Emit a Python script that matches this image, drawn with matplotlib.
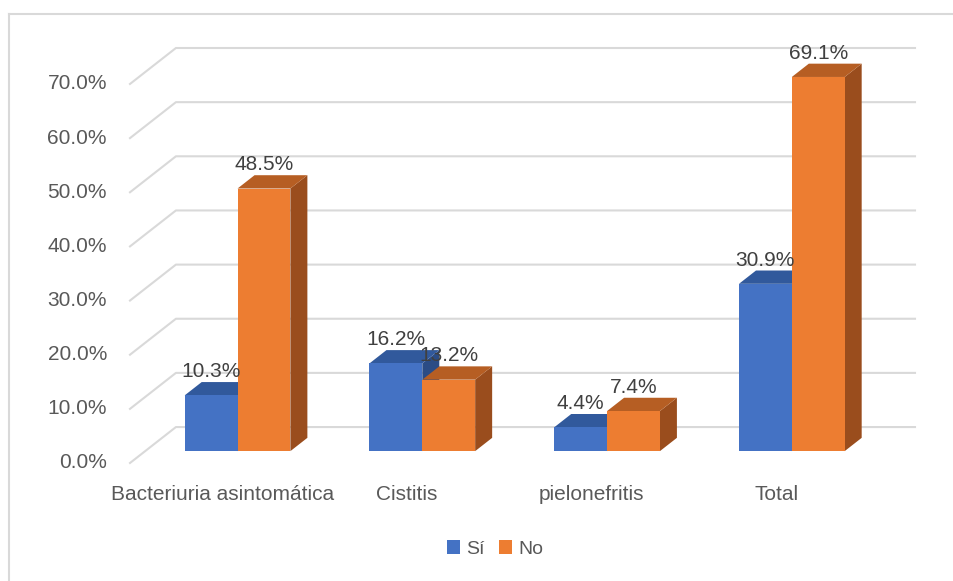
import matplotlib.pyplot as plt
from matplotlib.patches import Polygon, Patch
from matplotlib.lines import Line2D

# datos
categorias = ['Bacteriuria asintomática', 'Cistitis', 'pielonefritis', 'Total']
si = [10.3, 16.2, 4.4, 30.9]
no = [48.5, 13.2, 7.4, 69.1]
series = ['Sí', 'No']
ticks = [0, 10, 20, 30, 40, 50, 60, 70]

plt.rcParams['font.family'] = ['Liberation Sans', 'DejaVu Sans']

# colores (frente, arriba, lado)
colores = [('#4472C4', '#31599C', '#2B4C85'),
           ('#ED7D31', '#B65E23', '#9A4D1D')]

# profundidad del piso (oblicuo) en unidades de datos
ddx, ddy = 0.2486, 6.64
f0, f1 = 0.33, 0.70      # frente y fondo de las barras
w = 0.286                # ancho de cada barra

fig = plt.figure(figsize=(9.54, 5.81), dpi=100)
ax = fig.add_axes([130 / 954, 118 / 581, 785 / 954, 415 / 581])
ax.set_xlim(-0.5, 3.5 + ddx)
ax.set_ylim(0, 70 + ddy)
ax.axis('off')

# marco del gráfico
fig.add_artist(Line2D([9 / 954, 9 / 954], [0, 1 - 14 / 581], color='#D9D9D9', lw=1.5))
fig.add_artist(Line2D([9 / 954, 1], [1 - 14 / 581, 1 - 14 / 581], color='#D9D9D9', lw=1.5))

# líneas de cuadrícula (pared lateral + pared del fondo)
for t in ticks:
    ax.plot([-0.5, -0.5 + ddx, 3.5 + ddx], [t, t + ddy, t + ddy],
            color='#D9D9D9', lw=1.5, zorder=1, clip_on=False)
    ax.annotate(f'{t:.1f}%', xy=(-0.5, t), xytext=(-23, 0), textcoords='offset pixels',
                ha='right', va='center', fontsize=15, color='#595959', annotation_clip=False)

# barras 3D
sx0, sy0 = f0 * ddx, f0 * ddy
sx1, sy1 = f1 * ddx, f1 * ddy
for i in range(len(categorias)):
    for j, vals in enumerate([si, no]):
        v = vals[i]
        x0 = i - w + j * w
        x1 = x0 + w
        fc, tc, sc = colores[j]
        z = 2 + i * 10 + j * 3
        lado = [(x1 + sx0, sy0), (x1 + sx1, sy1), (x1 + sx1, v + sy1), (x1 + sx0, v + sy0)]
        arriba = [(x0 + sx0, v + sy0), (x1 + sx0, v + sy0), (x1 + sx1, v + sy1), (x0 + sx1, v + sy1)]
        frente = [(x0 + sx0, sy0), (x1 + sx0, sy0), (x1 + sx0, v + sy0), (x0 + sx0, v + sy0)]
        ax.add_patch(Polygon(lado, closed=True, facecolor=sc, edgecolor='none', zorder=z))
        ax.add_patch(Polygon(arriba, closed=True, facecolor=tc, edgecolor='none', zorder=z + 1))
        ax.add_patch(Polygon(frente, closed=True, facecolor=fc, edgecolor='none', zorder=z + 2))
        ax.annotate(f'{v:.1f}%', xy=((x0 + x1) / 2 + sx0, v + sy1), xytext=(0, 5),
                    textcoords='offset pixels', ha='center', va='baseline',
                    fontsize=15, color='#404040', zorder=100, annotation_clip=False)

# etiquetas de categorías
for i, c in enumerate(categorias):
    ax.annotate(c, xy=(i, 0), xytext=(0, -31), textcoords='offset pixels',
                ha='center', va='center', fontsize=15, color='#595959', annotation_clip=False)

# leyenda
handles = [Patch(facecolor=colores[k][0], label=series[k]) for k in range(2)]
fig.legend(handles=handles, loc='center', bbox_to_anchor=(495 / 954, 1 - 549 / 581),
           ncol=2, frameon=False, fontsize=14, handlelength=0.68, handleheight=0.68,
           handletextpad=0.3, columnspacing=0.75, labelcolor='#595959')

fig.savefig('out.png', dpi=100)
